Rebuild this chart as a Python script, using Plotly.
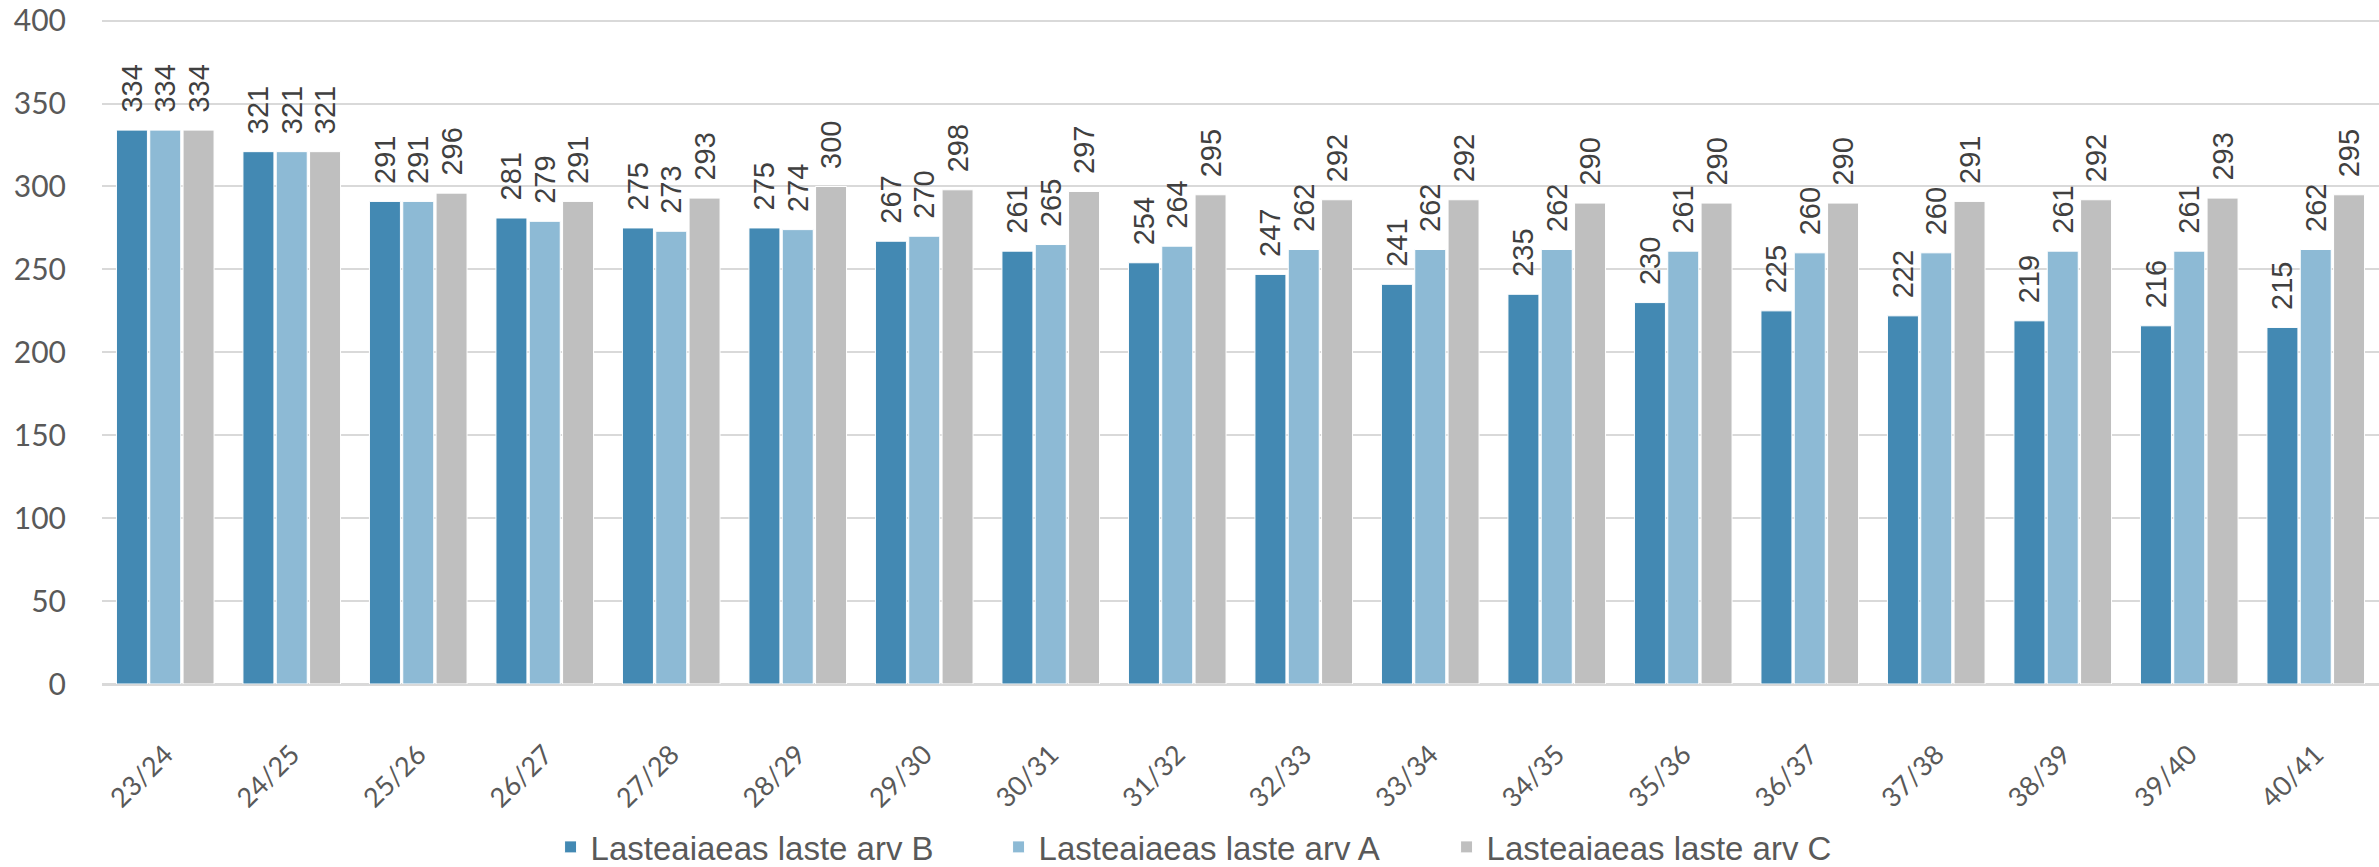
import plotly.graph_objects as go

categories = ["23/24", "24/25", "25/26", "26/27", "27/28", "28/29", "29/30", "30/31", "31/32",
              "32/33", "33/34", "34/35", "35/36", "36/37", "37/38", "38/39", "39/40", "40/41"]
series_b = [334, 321, 291, 281, 275, 275, 267, 261, 254, 247, 241, 235, 230, 225, 222, 219, 216, 215]
series_a = [334, 321, 291, 279, 273, 274, 270, 265, 264, 262, 262, 262, 261, 260, 260, 261, 261, 262]
series_c = [334, 321, 296, 291, 293, 300, 298, 297, 295, 292, 292, 290, 290, 290, 291, 292, 293, 295]
names = ["Lasteaiaeas laste arv B", "Lasteaiaeas laste arv A", "Lasteaiaeas laste arv C"]
colors = ["#4389b3", "#8dbad5", "#bfbfbf"]
y_ticks = [0, 50, 100, 150, 200, 250, 300, 350, 400]

label_font = "Liberation Sans, Arial, sans-serif"
tick_font = "Lato, Open Sans, sans-serif"

fig = go.Figure()
for name, vals, col in zip(names, [series_b, series_a, series_c], colors):
    fig.add_trace(go.Bar(
        x=categories, y=vals, name=name,
        marker=dict(color=col, line=dict(color="white", width=1)),
        texttemplate="\u2002%{y}", textposition="outside", textangle=-90,
        constraintext="none",
        textfont=dict(family=label_font, size=29, color="#404040"),
        cliponaxis=False,
    ))

fig.update_layout(
    width=2379, height=867,
    margin=dict(l=102, r=0, t=19, b=183, autoexpand=False),
    paper_bgcolor="white", plot_bgcolor="white",
    barmode="group", bargap=0.21, bargroupgap=0.07,
    legend=dict(
        orientation="h", x=0.197, xanchor="left",
        y=-0.245, yanchor="middle",
        font=dict(family=label_font, size=33, color="#595959"),
        traceorder="normal", itemwidth=30,
        entrywidth=403, entrywidthmode="pixels",
    ),
)
fig.update_xaxes(
    type="category", tickangle=-45, showgrid=False, automargin=False,
    tickfont=dict(family=tick_font, size=27, color="#595959"),
    ticks="", ticklabelstandoff=42,
    showline=True, linecolor="#d9d9d9", linewidth=2,
)
fig.update_yaxes(
    range=[0, 401], tickvals=y_ticks, ticktext=[str(v) for v in y_ticks],
    showgrid=True, gridcolor="#d9d9d9", gridwidth=2, automargin=False,
    zeroline=True, zerolinecolor="#d9d9d9", zerolinewidth=2,
    tickfont=dict(family=tick_font, size=30, color="#595959"),
    ticks="", ticklabelstandoff=35,
)

fig.write_html(
    "out.html",
    config={"displayModeBar": False},
    post_script="document.body.style.margin='0';document.body.style.overflow='hidden';",
)
